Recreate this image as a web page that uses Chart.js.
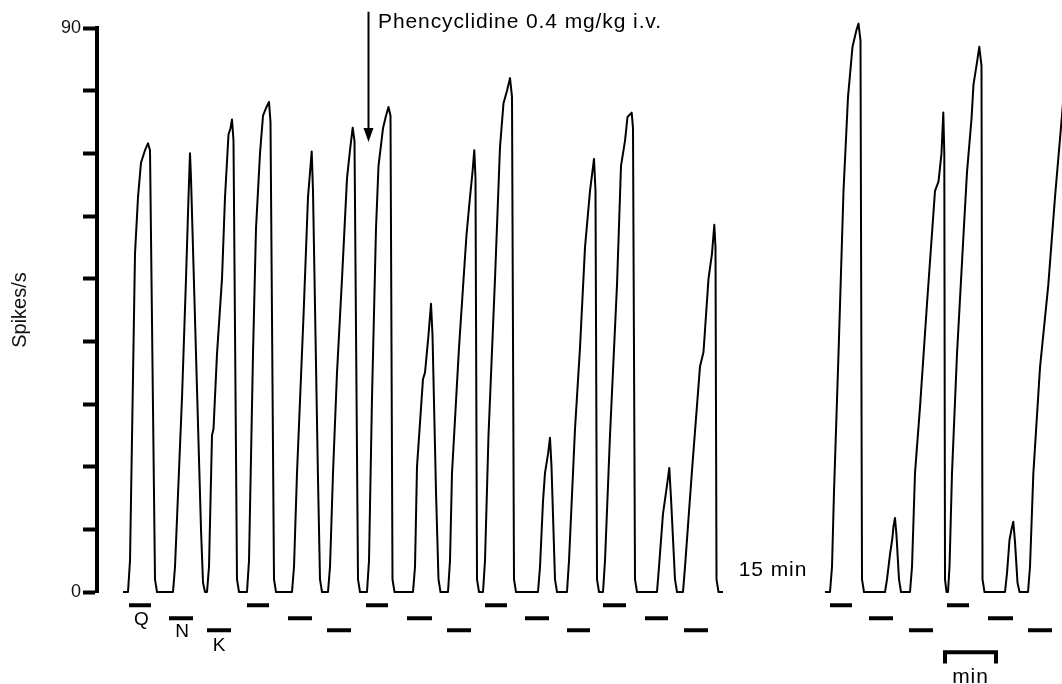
<!DOCTYPE html>
<html>
<head>
<meta charset="utf-8">
<script src="https://cdn.jsdelivr.net/npm/chart.js@4.4.1/dist/chart.umd.min.js"></script>
<style>
html,body{margin:0;padding:0;background:#fff;overflow:hidden}
canvas{display:block}
</style>
</head>
<body>
<canvas id="c" width="1062" height="684" style="width:1062px;height:684px"></canvas>
<script>
// ---- data (time in recorder units, ~52 units = 1 min; rate in spikes/s) ----
const preTime = [0,5,7,12,15,18,22,25,27,32,34,50,
  52,59,63,65.5,67,68,73,78,80,82,84,
  86,89,90.5,94,99,102,105.5,107.5,109,110.5,114,116,124,
  126,130,133,137,140,143.5,146,147.5,151,153,169,
  171,174,180.5,185,188.7,190,195,197,199,205,
  207,210,214,219,224,227,229.7,231.5,235,237,244,
  246,249,253,255.5,260,263,265.5,267.5,269.5,271.5,290,
  292,294,300,302,305.5,308,309.5,313,315.5,317.5,325,
  327,329,336,343.5,347,349.5,351.3,352.5,354,356,360,
  362,365.5,372,377,380.5,384,387,389,391,393,415,
  417,420,422,425,427,428.5,432,434,444,
  446,452,457,462,467,471,472.5,474,476,480,
  482,487,494,498,502,504.5,508.7,510,512,514,534,
  536,540,544,546.3,548,552,554,560,
  562,569,577,580.5,585.5,589,591.3,592.5,593.5,595.5,600];
const preRate = [0,0,5,54,63,68.5,70.5,71.6,70.5,2,0,0,
  4,31,50,63,70,66,38,10,1.5,0,0,
  4,25,26,38,50,63,73,74,75.4,72,2,0,0,
  5,38,58,70,76,77.4,78.2,75,2,0,0,
  4,19,44,63,70.3,64,18,2,0,0,
  4,19,35,50,66,70.5,74.1,72,2,0,0,
  5,31,58,68,74,76,77.4,76,2,0,0,
  4,20,34,35,41,46,41,16,2,0,0,
  5,19,39,57,63,67,70.5,66,2,0,0,
  5,25,50,71,78,80,82,79,2,0,0,
  4,14.5,19,22,24.6,20,2,0,0,
  5,26,39,55,64,69.1,64,2,0,0,
  5,25,49,68,72,75.8,76.5,74,2,0,0,
  4,12.5,17,19.8,15,2,0,0,
  4,19.4,36,38.3,50,54,58.6,55,2,0,0];
const postTime = [702,707,709,711,715.5,720.5,725,729.5,733.5,735.5,737.5,739,741,762,
  764,767,769.3,770.5,772,773.5,776,778,787,
  789,792,797,804,812,815.5,818.5,820.3,821.3,822,823.5,825,
  826.5,829,834,840.5,844,848.5,850.5,854,856.3,858.5,859.5,861.5,882,
  884,886.5,888.5,890.3,892,894.5,896.5,905,
  907,910.3,917,925.3,932,938.7,941];
const postRate = [0,0,4,16,38,64,79,87,89.7,90.7,88,2,0,0,
  2,6,8.5,10.5,11.8,9,2,0,0,
  4,19,29.5,46,64,65.5,70,76.5,70,2,0,0,
  4,19,38,57,67,75.5,81,84.5,87,84,2,0,0,
  3,8.3,10,11.2,8,1.5,0,0,
  4,18.8,35.8,49,63,75.5,80];

// iontophoretic ejection periods (Q, N, K)
const qStart = [6,124,243,362,480,707,824];
const qEnd   = [28,146,265,384,503,729,846];
const nStart = [46,165,284,402,522,746,865];
const nEnd   = [70,189,309,426,545,770,890];
const kStart = [84,204,324,444,561,786,905];
const kEnd   = [108,228,348,467,585,810,929];
const barLevels = {Q: -2.1, N: -4.2, K: -6.1};

// y-axis ticks
const yTicks = [0,10,20,30,40,50,60,70,80,90];
const yLabelled = [0, 90];

// annotations
const drugLabel = 'Phencyclidine 0.4 mg/kg i.v.';
const drugTime = 244.7;
const gapLabel = '15 min';
const scaleLabel = 'min';
const scaleBar = [822, 873]; // 1 min

const toPts = (ts, vs) => ts.map((t, i) => ({x: t, y: vs[i]}));
const bars = (s, e, lvl) => s.flatMap((v, i) => [{x: v, y: lvl}, {x: e[i], y: lvl}, {x: e[i], y: null}]);

const FONT = '"Liberation Sans", Arial, Helvetica, sans-serif';

const annot = {
  id: 'annot',
  afterDatasetsDraw(chart) {
    const {ctx, scales: {x, y}} = chart;
    ctx.save();
    ctx.fillStyle = '#000';
    ctx.strokeStyle = '#000';
    ctx.letterSpacing = '0.9px';
    ctx.font = '21px ' + FONT;
    ctx.textAlign = 'left';
    ctx.textBaseline = 'alphabetic';
    ctx.fillText(drugLabel, x.getPixelForValue(drugTime + 10.3), y.getPixelForValue(90));
    // arrow
    const ax = Math.round(x.getPixelForValue(drugTime)) + 0.5;
    const top = y.getPixelForValue(92.6);
    const tip = y.getPixelForValue(71.8);
    ctx.lineWidth = 2;
    ctx.beginPath(); ctx.moveTo(ax, top); ctx.lineTo(ax, tip - 10); ctx.stroke();
    ctx.beginPath(); ctx.moveTo(ax - 5, tip - 14); ctx.lineTo(ax + 5, tip - 14); ctx.lineTo(ax, tip); ctx.closePath(); ctx.fill();
    // gap label
    ctx.textAlign = 'center';
    ctx.textBaseline = 'middle';
    ctx.fillText(gapLabel, x.getPixelForValue(650), y.getPixelForValue(3.4));
    // drug letters
    ctx.font = '19px ' + FONT;
    ctx.letterSpacing = '0px';
    ctx.fillText('Q', x.getPixelForValue(18.5), y.getPixelForValue(-4.4));
    ctx.fillText('N', x.getPixelForValue(59), y.getPixelForValue(-6.4));
    ctx.fillText('K', x.getPixelForValue(96), y.getPixelForValue(-8.5));
    // scale label
    ctx.font = '21px ' + FONT;
    ctx.letterSpacing = '0.9px';
    ctx.textBaseline = 'alphabetic';
    ctx.fillText(scaleLabel, x.getPixelForValue((scaleBar[0] + scaleBar[1]) / 2), y.getPixelForValue(-14.6));
    ctx.restore();
  }
};

const lineDs = (data, w) => ({
  data, borderColor: '#000', borderWidth: w, pointRadius: 0, tension: 0,
  fill: false, spanGaps: false, clip: false, borderJoinStyle: 'round', borderCapStyle: 'butt'
});

new Chart(document.getElementById('c'), {
  type: 'line',
  data: {
    datasets: [
      lineDs(toPts(preTime, preRate), 2),
      lineDs(toPts(postTime, postRate), 2),
      lineDs(bars(qStart, qEnd, barLevels.Q), 4),
      lineDs(bars(nStart, nEnd, barLevels.N), 4),
      lineDs(bars(kStart, kEnd, barLevels.K), 4),
      Object.assign(lineDs([{x: scaleBar[0], y: -11.4}, {x: scaleBar[0], y: -9.6}, {x: scaleBar[1], y: -9.6}, {x: scaleBar[1], y: -11.4}], 4), {borderJoinStyle: 'miter'})
    ]
  },
  options: {
    responsive: false,
    devicePixelRatio: 1,
    animation: false,
    events: [],
    layout: {padding: {left: 0, right: 0, top: 28, bottom: 92}},
    plugins: {legend: {display: false}, tooltip: {enabled: false}, title: {display: false}},
    scales: {
      x: {type: 'linear', min: -26, max: 939, display: false},
      y: {
        type: 'linear', min: 0, max: 90,
        afterFit(s) { s.width = 97; },
        afterBuildTicks(s) { s.ticks = yTicks.map(v => ({value: v})); },
        ticks: {
          autoSkip: false, padding: 2, color: '#111',
          font: {family: FONT, size: 18},
          callback: v => yLabelled.includes(v) ? String(v) : ''
        },
        grid: {display: true, drawOnChartArea: false, drawTicks: true, tickLength: 14, tickWidth: 4, tickColor: '#000'},
        border: {display: true, color: '#000', width: 4},
        title: {display: true, text: 'Spikes/s', color: '#111', font: {family: FONT, size: 20}, padding: {top: 8, bottom: 0}}
      }
    }
  },
  plugins: [annot]
});
</script>
</body>
</html>
